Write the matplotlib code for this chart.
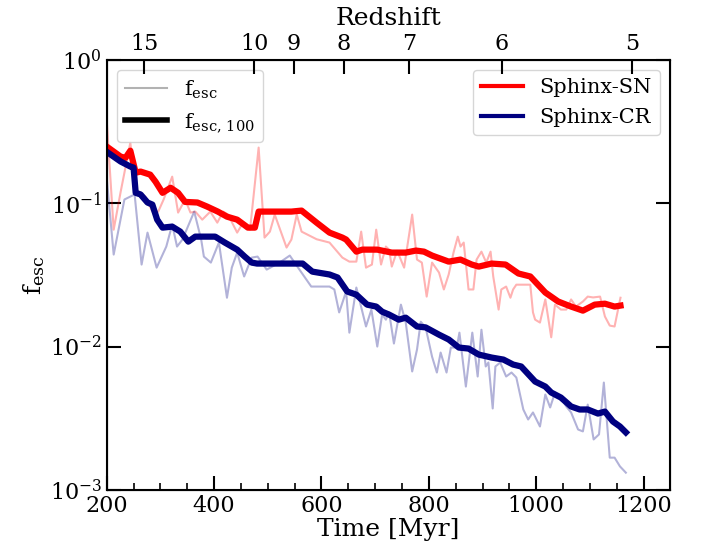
import matplotlib
matplotlib.use("Agg")
import matplotlib.pyplot as plt
from matplotlib.lines import Line2D
from matplotlib.ticker import MultipleLocator

# ── data ───────────────────────────────────────────────────────────────────
# Sphinx-SN, instantaneous f_esc
sn_t = [200, 213, 226, 244, 254, 272, 285, 296, 306, 322, 333, 346, 356, 365,
        378, 393, 406, 417, 426, 443, 454, 467, 483, 494, 504, 513, 535, 544,
        554, 563, 591, 615, 639, 652, 665, 674, 683, 694, 702, 711, 720, 726,
        731, 741, 754, 759, 769, 778, 787, 796, 806, 819, 828, 837, 846, 854,
        859, 865, 874, 883, 889, 898, 907, 915, 920, 930, 935, 944, 952, 957,
        963, 989, 994, 998, 1007, 1017, 1028, 1035, 1046, 1056, 1065, 1074,
        1087, 1096, 1106, 1119, 1128, 1137, 1146, 1157]
sn_f = [0.38, 0.0653, 0.120, 0.264, 0.124, 0.111, 0.0873, 0.0873, 0.106, 0.153,
        0.0859, 0.106, 0.0859, 0.0873, 0.0767, 0.0873, 0.0731, 0.0873, 0.0832,
        0.0623, 0.0731, 0.0653, 0.244, 0.0575, 0.0633, 0.0832, 0.0490, 0.0557,
        0.0832, 0.0633, 0.0560, 0.0531, 0.0417, 0.0391, 0.0391, 0.0633, 0.0355,
        0.0373, 0.0653, 0.0373, 0.0498, 0.0474, 0.0361, 0.0465, 0.0355, 0.0474,
        0.0832, 0.0404, 0.0385, 0.0223, 0.0385, 0.0328, 0.0250, 0.0318, 0.0452,
        0.0584, 0.0498, 0.0531, 0.0250, 0.0250, 0.0404, 0.0459, 0.0385, 0.0459,
        0.0308, 0.0181, 0.0250, 0.0262, 0.0219, 0.0250, 0.0270, 0.0270, 0.0173,
        0.0154, 0.0147, 0.0213, 0.0116, 0.0196, 0.0181, 0.0181, 0.0213, 0.0190,
        0.0206, 0.0223, 0.0220, 0.0223, 0.0162, 0.0140, 0.0138, 0.0219]

# Sphinx-SN, 100 Myr averaged
sn100_t = [200, 226, 235, 244, 254, 263, 281, 291, 304, 319, 333, 346, 369, 387,
           407, 424, 443, 463, 476, 483, 509, 544, 563, 591, 615, 639, 646, 665,
           676, 704, 731, 757, 776, 791, 806, 837, 859, 880, 893, 917, 943, 967,
           989, 1017, 1041, 1065, 1087, 1109, 1128, 1146, 1157]
sn100_f = [0.248, 0.211, 0.207, 0.232, 0.163, 0.166, 0.158, 0.141, 0.118, 0.128,
           0.118, 0.102, 0.101, 0.0946, 0.0873, 0.0805, 0.0767, 0.0675, 0.0675,
           0.0873, 0.0873, 0.0873, 0.0887, 0.0731, 0.0623, 0.0575, 0.0557, 0.0459,
           0.0474, 0.0474, 0.0452, 0.0452, 0.0467, 0.0459, 0.0431, 0.0391, 0.0404,
           0.0373, 0.0361, 0.0379, 0.0373, 0.0323, 0.0308, 0.0238, 0.0206, 0.0190,
           0.0178, 0.0196, 0.0199, 0.0190, 0.0193]

# Sphinx-CR, instantaneous f_esc
cr_t = [200, 213, 233, 252, 265, 276, 293, 311, 322, 331, 341, 363, 376, 381,
        394, 409, 424, 433, 443, 456, 470, 481, 498, 522, 541, 559, 581, 615,
        624, 633, 646, 652, 665, 683, 693, 704, 713, 720, 726, 735, 744, 748,
        757, 769, 778, 785, 794, 806, 815, 822, 833, 841, 852, 857, 869, 881,
        891, 898, 906, 911, 919, 924, 933, 944, 954, 963, 976, 985, 994, 1007,
        1017, 1026, 1035, 1044, 1056, 1065, 1078, 1087, 1096, 1107, 1117, 1126,
        1137, 1146, 1156, 1167]
cr_f = [0.15, 0.0438, 0.106, 0.115, 0.0373, 0.0623, 0.0355, 0.0498, 0.0708,
        0.0498, 0.0557, 0.0873, 0.0557, 0.0424, 0.0385, 0.0531, 0.0219, 0.0355,
        0.0452, 0.0308, 0.0417, 0.0424, 0.0344, 0.0385, 0.0431, 0.0344, 0.0262,
        0.0262, 0.0250, 0.0173, 0.0242, 0.0125, 0.0258, 0.0138, 0.0181, 0.0100,
        0.0167, 0.0154, 0.0173, 0.0105, 0.0162, 0.0196, 0.0147, 0.0067, 0.00953,
        0.0149, 0.0136, 0.00851, 0.00659, 0.00908, 0.00659, 0.00984, 0.00984,
        0.0125, 0.00526, 0.0125, 0.00618, 0.0131, 0.00726, 0.00774, 0.00370,
        0.00726, 0.00774, 0.00618, 0.00659, 0.00608, 0.00364, 0.00310, 0.00347,
        0.00277, 0.00463, 0.00376, 0.00478, 0.00449, 0.00382, 0.00347, 0.00264,
        0.00256, 0.00394, 0.00225, 0.00244, 0.00561, 0.00168, 0.00168, 0.00146,
        0.00132]

# Sphinx-CR, 100 Myr averaged
cr100_t = [200, 226, 244, 250, 254, 263, 276, 285, 294, 304, 322, 337, 352, 365,
           402, 420, 443, 457, 470, 480, 565, 583, 615, 630, 648, 665, 685, 702,
           713, 726, 744, 757, 778, 794, 819, 837, 856, 874, 893, 917, 939, 957,
           972, 998, 1017, 1028, 1046, 1065, 1081, 1096, 1115, 1128, 1143, 1156,
           1167]
cr100_f = [0.228, 0.195, 0.180, 0.177, 0.118, 0.115, 0.101, 0.0977, 0.0767,
           0.0675, 0.0686, 0.0633, 0.0539, 0.0584, 0.0584, 0.0531, 0.0474, 0.0424,
           0.0385, 0.0379, 0.0379, 0.0333, 0.0318, 0.0303, 0.0242, 0.0230, 0.0196,
           0.0190, 0.0175, 0.0167, 0.0154, 0.0159, 0.0138, 0.0136, 0.0121, 0.0112,
           0.00984, 0.00968, 0.00879, 0.00838, 0.00811, 0.00749, 0.00726, 0.00570,
           0.00526, 0.00478, 0.00441, 0.00382, 0.00364, 0.00364, 0.00341, 0.00352,
           0.00300, 0.00277, 0.00252]

# top axis: cosmic time (Myr) of the labelled redshifts
z_labels = ["15", "10", "9", "8", "7", "6", "5"]
z_ages   = [270, 475, 548, 642, 764, 936, 1178]

SN = "#FF0000"
CR = "#000080"

plt.rcParams.update({
    "font.family": "DejaVu Serif",
    "mathtext.fontset": "dejavuserif",
    "xtick.direction": "in",
    "ytick.direction": "in",
    "xtick.top": False,
    "ytick.right": True,
})

fig = plt.figure(figsize=(7.02, 5.53), dpi=100)
ax = fig.add_axes([0.152, 0.114, 0.803, 0.778])

ax.plot(sn_t, sn_f, color=SN, alpha=0.3, lw=1.5)
ax.plot(cr_t, cr_f, color=CR, alpha=0.3, lw=1.5)
ax.plot(sn100_t, sn100_f, color=SN, lw=4.5)
ax.plot(cr100_t, cr100_f, color=CR, lw=4.5)

ax.set_yscale("log")
ax.set_xlim(200, 1250)
ax.set_ylim(1e-3, 1)
ax.xaxis.set_major_locator(MultipleLocator(200))
ax.xaxis.set_minor_locator(MultipleLocator(50))
ax.tick_params(which="major", length=10, width=1.5, labelsize=16)
ax.tick_params(which="minor", length=5, width=1.2)
for s in ax.spines.values():
    s.set_linewidth(1.5)

ax.set_xlabel("Time [Myr]", fontsize=18, labelpad=1)
ax.set_ylabel(r"$\mathrm{f_{esc}}$", fontsize=18, labelpad=2)

# legends
style_h = [Line2D([], [], color="k", alpha=0.3, lw=1.5),
           Line2D([], [], color="k", lw=4)]
leg1 = ax.legend(style_h, [r"$\mathrm{f_{esc}}$", r"$\mathrm{f_{esc,\,100}}$"],
                 loc="upper left", fontsize=15)
ax.add_artist(leg1)
sim_h = [Line2D([], [], color=SN, lw=3), Line2D([], [], color=CR, lw=3)]
ax.legend(sim_h, ["Sphinx-SN", "Sphinx-CR"], loc="upper right", fontsize=15)

# redshift axis
ax2 = ax.twiny()
ax2.set_xlim(ax.get_xlim())
ax2.set_xticks(z_ages)
ax2.set_xticklabels(z_labels)
ax2.tick_params(which="major", direction="in", length=10, width=1.5, labelsize=16)
ax2.minorticks_off()
ax2.set_xlabel("Redshift", fontsize=18, labelpad=6)

fig.savefig("out.png", dpi=100)
